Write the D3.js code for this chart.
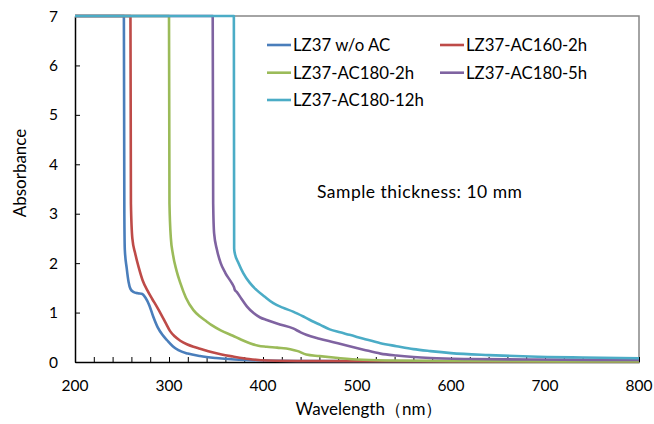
<!DOCTYPE html>
<html><head><meta charset="utf-8">
<script src="https://cdn.jsdelivr.net/npm/d3@7"></script>
<style>body{margin:0;background:#fff}svg{display:block}text{font-family:Lato,"Open Sans",sans-serif;fill:#000}</style>
</head><body><svg id="c" width="654" height="424"></svg>
<script>
const seriesNames = ["LZ37 w/o AC","LZ37-AC160-2h","LZ37-AC180-2h","LZ37-AC180-5h","LZ37-AC180-12h"];
const seriesColors = ["#4A7EBB","#BE4B48","#9BBB59","#7F63A1","#4BACC6"];
const blue = [[200,7],[252,7],[252.5,3],[253,2.27],[255,1.9],[257,1.62],[259,1.48],[262,1.42],[267,1.39],[271,1.38],[275,1.3],[279,1.15],[283,0.93],[288,0.7],[293,0.55],[298,0.44],[304,0.32],[310,0.24],[320,0.17],[333,0.12],[350,0.08],[370,0.05],[400,0.03],[450,0.02],[800,0.01]];
const red = [[200,7],[259,7],[259.5,3.2],[261,2.5],[264,2.2],[268,1.9],[272,1.65],[277,1.45],[282,1.28],[287,1.12],[292,0.95],[297,0.77],[301,0.63],[306,0.52],[312,0.43],[319,0.36],[326,0.31],[333,0.27],[345,0.2],[356,0.15],[368,0.11],[385,0.06],[404,0.03],[450,0.02],[800,0.01]];
const green = [[200,7],[300,7],[300.5,3.2],[302,2.5],[304,2.2],[308,1.85],[312,1.6],[318,1.3],[326,1.05],[333,0.92],[340,0.82],[345,0.75],[355,0.64],[368,0.53],[377,0.45],[386,0.38],[395,0.33],[404,0.31],[415,0.29],[429,0.26],[437,0.22],[446,0.15],[460,0.12],[475,0.09],[500,0.05],[530,0.03],[600,0.02],[800,0.01]];
const purple = [[200,7],[346.5,7],[347,3.2],[348,2.6],[351,2.27],[355,2.0],[360,1.8],[367,1.59],[369,1.52],[370,1.46],[372,1.42],[377,1.28],[383,1.12],[390,0.99],[397,0.9],[404,0.85],[418,0.76],[432,0.68],[440,0.6],[446,0.55],[460,0.47],[475,0.4],[490,0.33],[507,0.25],[525,0.17],[542,0.13],[560,0.1],[578,0.08],[620,0.06],[684,0.05],[800,0.04]];
const cyan = [[200,7],[369,7],[369.3,2.3],[370,2.2],[374,2.0],[379,1.8],[386,1.6],[393,1.46],[402,1.32],[411,1.19],[421,1.1],[432,1.02],[443,0.92],[452,0.83],[461,0.75],[471,0.66],[482,0.6],[492,0.55],[507,0.47],[525,0.38],[542,0.32],[560,0.26],[578,0.22],[600,0.18],[640,0.14],[684,0.11],[740,0.09],[800,0.075]];
const seriesData = [blue, red, green, purple, cyan];
const xTicks = [200,300,400,500,600,700,800];
const yTicks = [0,1,2,3,4,5,6,7];
const xLabel = "Wavelength（nm）";
const yLabel = "Absorbance";
const note = "Sample thickness: 10 mm";

const svg = d3.select("#c");
const L = 75, R = 639, T = 16, B = 362;
const x = d3.scaleLinear().domain([200,800]).range([L,R]);
const y = d3.scaleLinear().domain([0,7]).range([B,T]);

svg.append("path").attr("d",`M${L},${T}H${R}V${B}`).attr("fill","none").attr("stroke","#868686").attr("stroke-width",1.5);

const xAxis = d3.axisBottom(x).tickValues(d3.range(200,801,20)).tickSizeInner(-5).tickSizeOuter(0).tickFormat("");
const gx = svg.append("g").attr("transform",`translate(0,${B})`).call(xAxis);
gx.select(".domain").attr("stroke","#000").attr("stroke-width",1.5);
gx.selectAll(".tick line").attr("stroke","#000");
svg.append("g").selectAll("text").data(xTicks).join("text")
  .attr("x",d=>x(d)).attr("y",391).attr("text-anchor","middle").attr("font-size",15.5).text(d=>d);

const yAxis = d3.axisLeft(y).tickValues(yTicks).tickSizeInner(-5).tickSizeOuter(0).tickFormat("");
const gy = svg.append("g").attr("transform",`translate(${L},0)`).call(yAxis);
gy.select(".domain").attr("stroke","#000").attr("stroke-width",1.5);
gy.selectAll(".tick line").attr("stroke","#000");
svg.append("g").selectAll("text").data(yTicks).join("text")
  .attr("x",58).attr("y",d=>y(d)+5.5).attr("text-anchor","end").attr("font-size",15.5).text(d=>d);

const line = d3.line().x(d=>x(d[0])).y(d=>y(d[1])).curve(d3.curveMonotoneX);
seriesData.forEach((s,i)=>{
  svg.append("path").datum(s).attr("d",line).attr("fill","none")
    .attr("stroke",seriesColors[i]).attr("stroke-width",2.6).attr("stroke-linejoin","round");
});

const legPos = [[267,45],[440,45],[267,72.7],[440,72.7],[267,100]];
seriesNames.forEach((n,i)=>{
  const [lx,ly] = legPos[i];
  svg.append("line").attr("x1",lx).attr("x2",lx+24).attr("y1",ly).attr("y2",ly)
    .attr("stroke",seriesColors[i]).attr("stroke-width",2.6);
  svg.append("text").attr("x",lx+26).attr("y",ly+6).attr("font-size",16.8).text(n);
});

svg.append("text").attr("x",317).attr("y",198).attr("font-size",17.5)
  .attr("textLength",205).attr("lengthAdjust","spacing").text(note);

svg.append("text").attr("x",369).attr("y",415).attr("text-anchor","middle").attr("font-size",17).text(xLabel);
svg.append("text").attr("transform","translate(26,173) rotate(-90)").attr("text-anchor","middle").attr("font-size",17).text(yLabel);
</script></body></html>
